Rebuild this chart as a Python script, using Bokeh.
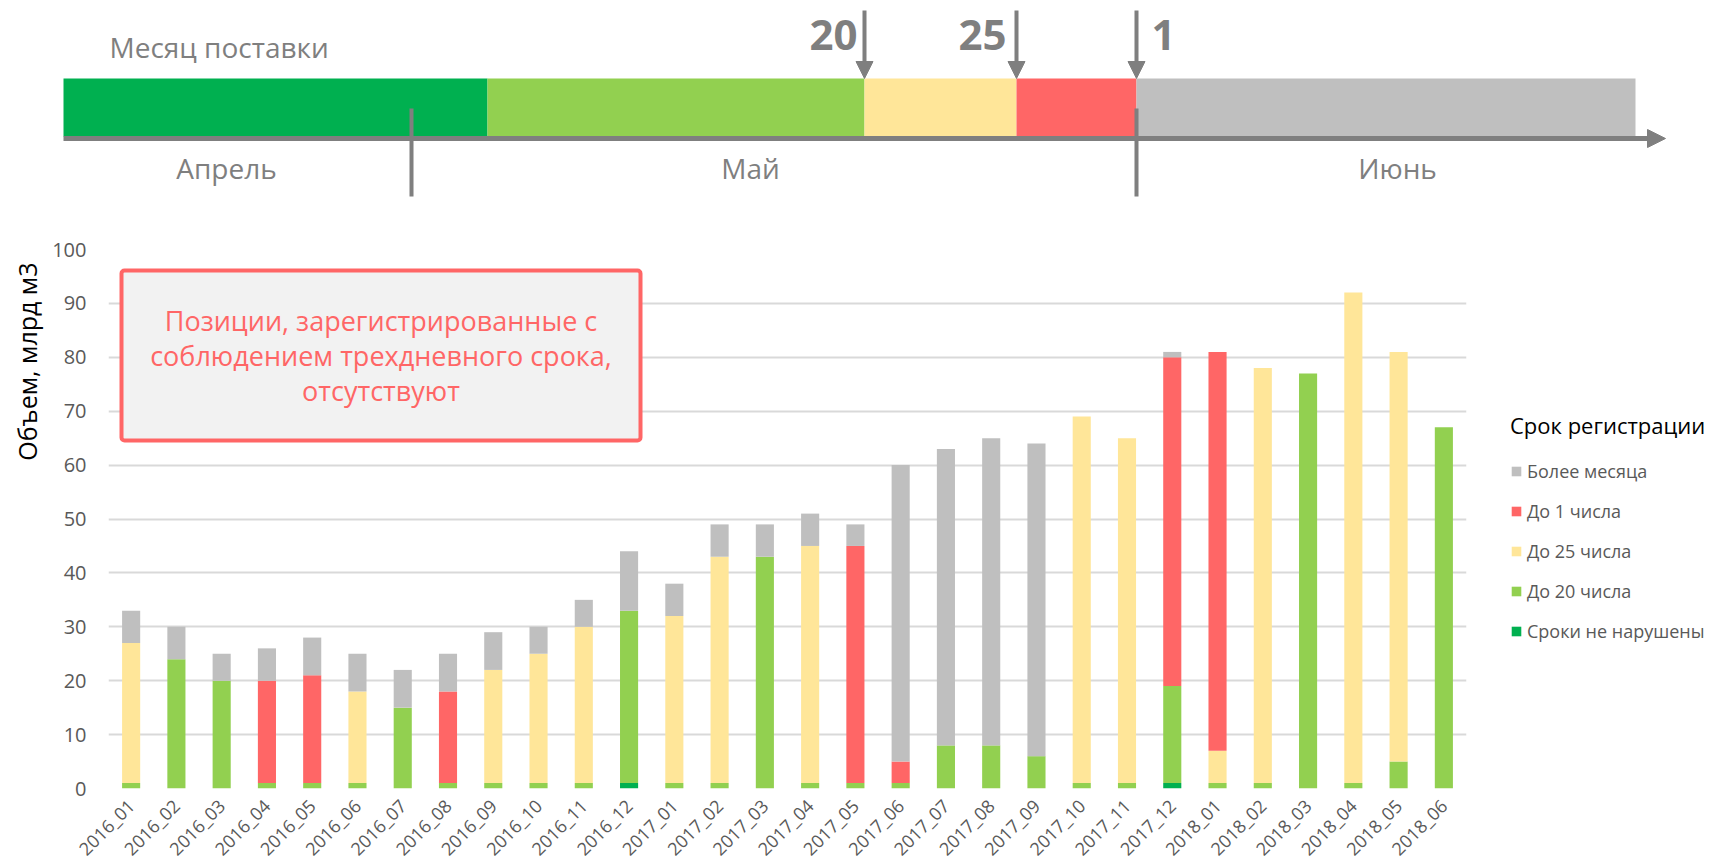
import math
from bokeh.plotting import figure
from bokeh.layouts import column, row
from bokeh.models import (FactorRange, Range1d, Legend, LegendItem, Label, BoxAnnotation,
                          Arrow, NormalHead, ColumnDataSource, FixedTicker, Spacer, Title)
from bokeh.embed import file_html
from bokeh.resources import INLINE

# ---------------- data ----------------
months = ["2016_01", "2016_02", "2016_03", "2016_04", "2016_05", "2016_06", "2016_07", "2016_08",
          "2016_09", "2016_10", "2016_11", "2016_12", "2017_01", "2017_02", "2017_03", "2017_04",
          "2017_05", "2017_06", "2017_07", "2017_08", "2017_09", "2017_10", "2017_11", "2017_12",
          "2018_01", "2018_02", "2018_03", "2018_04", "2018_05", "2018_06"]
on_time = [0, 0, 0, 0, 0, 0, 0, 0, 0, 0, 0, 1, 0, 0, 0, 0,
           0, 0, 0, 0, 0, 0, 0, 1, 0, 0, 0, 0, 0, 0]
by_20 = [1, 24, 20, 1, 1, 1, 15, 1, 1, 1, 1, 32, 1, 1, 43, 1,
         1, 1, 8, 8, 6, 1, 1, 18, 1, 1, 77, 1, 5, 67]
by_25 = [26, 0, 0, 0, 0, 17, 0, 0, 21, 24, 29, 0, 31, 42, 0, 44,
         0, 0, 0, 0, 0, 68, 64, 0, 6, 77, 0, 91, 76, 0]
by_1 = [0, 0, 0, 19, 20, 0, 0, 17, 0, 0, 0, 0, 0, 0, 0, 0,
        44, 4, 0, 0, 0, 0, 0, 61, 74, 0, 0, 0, 0, 0]
over_month = [6, 6, 5, 6, 7, 7, 7, 7, 7, 5, 5, 11, 6, 6, 6, 6,
              4, 55, 55, 57, 58, 0, 0, 1, 0, 0, 0, 0, 0, 0]

series_keys = ["on_time", "by_20", "by_25", "by_1", "over_month"]
series_names = ["Сроки не нарушены", "До 20 числа", "До 25 числа", "До 1 числа", "Более месяца"]
colors = ["#00b050", "#92d050", "#ffe699", "#ff6666", "#bfbfbf"]

y_ticks = list(range(0, 101, 10))

timeline_months = ["Апрель", "Май", "Июнь"]
deadline_labels = ["20", "25", "1"]

GRAY = "#7f7f7f"
FONT = "Open Sans"

# ---------------- top timeline (figure coords = screen pixels) ----------------
TOP_H = 215
top = figure(width=1705, height=TOP_H, x_range=Range1d(1, 1706), y_range=Range1d(TOP_H, 0),
             toolbar_location=None, output_backend="svg",
             x_axis_location=None, y_axis_location=None, min_border=0)
top.grid.visible = False
top.outline_line_color = None

band_left = [63, 487, 864, 1016, 1136]
band_right = [487, 864, 1016, 1136, 1635]
top.quad(left=band_left, right=band_right, top=[78] * 5, bottom=[136] * 5,
         fill_color=colors, line_color=None)

top.add_layout(Arrow(end=NormalHead(size=18, fill_color=GRAY, line_color=GRAY, line_width=1),
                     x_start=63, y_start=138, x_end=1665, y_end=138,
                     line_width=5, line_color=GRAY))
top.segment(x0=[411, 1136], y0=[108, 108], x1=[411, 1136], y1=[196, 196],
            line_width=4, line_color=GRAY)

for xa in [864, 1016, 1136]:
    top.add_layout(Arrow(end=NormalHead(size=17, fill_color=GRAY, line_color=GRAY, line_width=1),
                         x_start=xa, y_start=10, x_end=xa, y_end=78,
                         line_width=4, line_color=GRAY))

top.add_layout(Label(x=109, y=46, text="Месяц поставки", text_font=FONT, text_font_size="28px",
                     text_color=GRAY, text_align="left", text_baseline="middle"))
for txt, xc in zip(timeline_months, [226, 750, 1397]):
    top.add_layout(Label(x=xc, y=167, text=txt, text_font=FONT, text_font_size="28px",
                         text_color=GRAY, text_align="center", text_baseline="middle"))
for txt, xc in zip(deadline_labels, [833, 982, 1163]):
    top.add_layout(Label(x=xc, y=34, text=txt, text_font=FONT, text_font_size="42px",
                         text_font_style="bold", text_color=GRAY,
                         text_align="center", text_baseline="middle"))

# ---------------- chart ----------------
FL, FR, FT, FB = 108.0, 1466.0, 249.0, 788.0


def xd(px):
    return (px - FL) / (FR - FL) * len(months)


def yd(py):
    return (FB - py) / (FB - FT) * 100.0


p = figure(x_range=FactorRange(factors=months, range_padding=0), y_range=Range1d(0, 100),
           frame_width=int(FR - FL), frame_height=int(FB - FT),
           min_border_left=int(FL), min_border_right=1714 - int(FR),
           min_border_top=int(FT) - TOP_H, min_border_bottom=74,
           toolbar_location=None, output_backend="svg")

src = ColumnDataSource(dict(months=months, on_time=on_time, by_20=by_20, by_25=by_25,
                            by_1=by_1, over_month=over_month))
rs = p.vbar_stack(series_keys, x="months", width=0.4, source=src,
                  fill_color=colors, line_color=None)

p.outline_line_color = None
p.xgrid.visible = False
p.ygrid.grid_line_color = "#d9d9d9"
p.ygrid.grid_line_width = 2
p.yaxis.ticker = FixedTicker(ticks=y_ticks)
p.yaxis.axis_line_color = None
p.yaxis.major_tick_line_color = None
p.yaxis.minor_tick_line_color = None
p.yaxis.major_tick_out = 0
p.yaxis.major_tick_in = 0
p.yaxis.major_label_standoff = 22
p.yaxis.major_label_text_font = FONT
p.yaxis.major_label_text_font_size = "20px"
p.yaxis.major_label_text_color = "#595959"

p.xaxis.axis_line_color = None
p.xaxis.major_tick_line_color = None
p.xaxis.major_tick_out = 0
p.xaxis.major_tick_in = 0
p.xaxis.major_label_orientation = math.pi / 4
p.xaxis.major_label_standoff = 14
p.xaxis.major_label_text_font = FONT
p.xaxis.major_label_text_font_size = "18px"
p.xaxis.major_label_text_color = "#595959"

# y title (side panel, placed near the top of the axis)
p.add_layout(Title(text="Объем, млрд м3", align="right", offset=13, vertical_align="middle",
                   standoff=10, text_font=FONT, text_font_size="25px",
                   text_font_style="normal", text_color="#000000"), "left")

# note box
p.add_layout(BoxAnnotation(left=xd(121), right=xd(640), top=yd(270), bottom=yd(440),
                           fill_color="#f2f2f2", fill_alpha=1, line_color="#ff6666",
                           line_width=4, line_alpha=1, border_radius=3))
note_lines = ["Позиции, зарегистрированные с", "соблюдением трехдневного срока,", "отсутствуют"]
for txt, py in zip(note_lines, [320, 355, 390]):
    p.add_layout(Label(x=xd(380.5), y=yd(py), text=txt, text_font=FONT, text_font_size="27px",
                       text_color="#ff6666", text_align="center", text_baseline="middle"))

# legend (right side panel)
legend = Legend(items=[LegendItem(label=series_names[i], renderers=[rs[i]]) for i in range(4, -1, -1)],
                title="Срок регистрации", title_text_font=FONT, title_text_font_size="22px",
                title_text_font_style="normal", title_text_color="#000000", title_standoff=19,
                location=(44, 145), orientation="vertical", padding=0, margin=0, spacing=16,
                glyph_width=12, glyph_height=12, label_standoff=5, label_height=24,
                label_text_font=FONT, label_text_font_size="18px", label_text_color="#595959",
                border_line_color=None, background_fill_alpha=0)
p.add_layout(legend, "right")

layout = column(row(Spacer(width=1, height=TOP_H), top), p, spacing=0)
open("out.html", "w").write(file_html(layout, INLINE))
